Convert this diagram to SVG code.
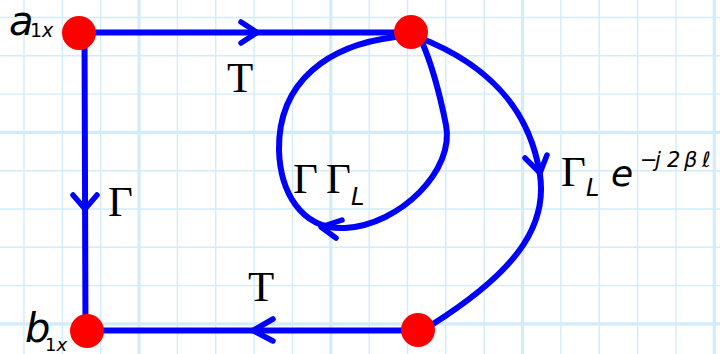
<svg xmlns="http://www.w3.org/2000/svg" width="720" height="354" viewBox="0 0 720 354">
<style>
.g{stroke:#d2ecfb;stroke-width:1.4}
.gt{stroke:#d2ecfb;stroke-width:3.2}
.c{fill:none;stroke:#0000ff;stroke-width:6;stroke-linecap:round;stroke-linejoin:round}
.ah{fill:none;stroke:#0000ff;stroke-width:5.5;stroke-linecap:round;stroke-linejoin:round}
.n{fill:#ff0000}
.s{font-family:"Liberation Serif","Times New Roman",serif;fill:#000}
.i{font-family:"DejaVu Sans","Liberation Sans",sans-serif;font-style:italic;fill:#000}
</style>
<rect width="720" height="354" fill="#fff"/>
<g id="grid">
<line class="g" x1="24" y1="0" x2="24" y2="354"/>
<line class="g" x1="62.35" y1="0" x2="62.35" y2="354"/>
<line class="g" x1="100.7" y1="0" x2="100.7" y2="354"/>
<line class="gt" x1="139.05" y1="0" x2="139.05" y2="354"/>
<line class="g" x1="177.4" y1="0" x2="177.4" y2="354"/>
<line class="g" x1="215.75" y1="0" x2="215.75" y2="354"/>
<line class="g" x1="254.1" y1="0" x2="254.1" y2="354"/>
<line class="g" x1="292.45" y1="0" x2="292.45" y2="354"/>
<line class="gt" x1="330.8" y1="0" x2="330.8" y2="354"/>
<line class="g" x1="369.15" y1="0" x2="369.15" y2="354"/>
<line class="g" x1="407.5" y1="0" x2="407.5" y2="354"/>
<line class="g" x1="445.85" y1="0" x2="445.85" y2="354"/>
<line class="g" x1="484.2" y1="0" x2="484.2" y2="354"/>
<line class="gt" x1="522.55" y1="0" x2="522.55" y2="354"/>
<line class="g" x1="560.9" y1="0" x2="560.9" y2="354"/>
<line class="g" x1="599.25" y1="0" x2="599.25" y2="354"/>
<line class="g" x1="637.6" y1="0" x2="637.6" y2="354"/>
<line class="g" x1="675.95" y1="0" x2="675.95" y2="354"/>
<line class="gt" x1="714.3" y1="0" x2="714.3" y2="354"/>
<line class="g" x1="0" y1="17.5" x2="720" y2="17.5"/>
<line class="g" x1="0" y1="55.8" x2="720" y2="55.8"/>
<line class="g" x1="0" y1="94.1" x2="720" y2="94.1"/>
<line class="gt" x1="0" y1="132.4" x2="720" y2="132.4"/>
<line class="g" x1="0" y1="170.7" x2="720" y2="170.7"/>
<line class="g" x1="0" y1="209" x2="720" y2="209"/>
<line class="g" x1="0" y1="247.3" x2="720" y2="247.3"/>
<line class="g" x1="0" y1="285.6" x2="720" y2="285.6"/>
<line class="gt" x1="0" y1="323.9" x2="720" y2="323.9"/>
</g>
<g id="connectors">
<path class="c" d="M79 32.5 L411 32.5"/>
<path class="ah" d="M241 22 L257 32.5 L241 43"/>
<path class="c" d="M84.5 33 L85.5 331"/>
<path class="ah" d="M73 195 L85 209 L97 195"/>
<path class="c" d="M87 330.5 L418 330.5"/>
<path class="ah" d="M273 319 L253 330.5 L273 341"/>
<path class="c" d="M418 37 C490 65,530 110,540 175 C548 230,510 275,433 324"/>
<path class="ah" d="M525 158 L540 173 L547 155"/>
<path class="c" d="M422 42 C432 65,440 95,446 125 C455 170,400 225,345 228 C300 230,280 190,279 150 C278 80,330 45,395 37"/>
<path class="ah" d="M342 220 L321 227 L336 238"/>
</g>
<g id="a1x">
<circle class="n" cx="79" cy="33" r="17"/>
<text class="i" x="9" y="35" font-size="40">a</text>
<text class="i" x="30" y="37" font-size="19"><tspan font-style="normal">1</tspan>x</text>
</g>
<g id="node-top-right">
<circle class="n" cx="411" cy="32" r="17"/>
</g>
<g id="b1x">
<circle class="n" cx="87" cy="331" r="17"/>
<text class="i" x="25" y="342" font-size="40">b</text>
<text class="i" x="45" y="351" font-size="18"><tspan font-style="normal">1</tspan>x</text>
</g>
<g id="node-bottom-right">
<circle class="n" cx="418" cy="330" r="17"/>
</g>
<g id="labels">
<text class="s" x="227" y="92" font-size="43">T</text>
<text class="s" x="248" y="301" font-size="43">T</text>
<text class="s" x="108" y="216" font-size="43">Γ</text>
<text class="s" x="293" y="193" font-size="43">Γ</text>
<text class="s" x="326" y="193" font-size="43">Γ</text>
<text class="i" x="351" y="205" font-size="24">L</text>
<text class="s" x="561" y="186" font-size="43">Γ</text>
<text class="i" x="586" y="196" font-size="24">L</text>
<text class="i" x="611" y="186" font-size="36">e</text>
<text class="i" font-size="21" y="167"><tspan x="640">−</tspan><tspan x="655">j</tspan><tspan x="667">2</tspan><tspan x="684">β</tspan><tspan x="702">ℓ</tspan></text>
</g>
</svg>
